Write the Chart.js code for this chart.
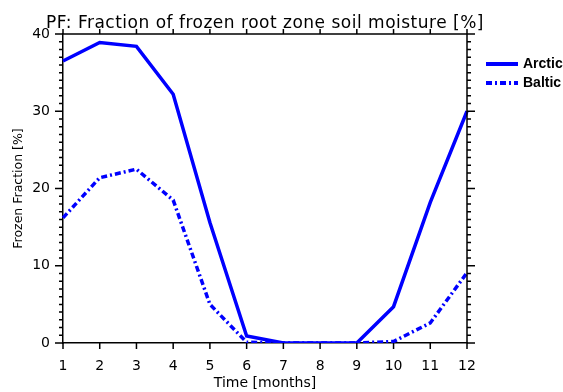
<!DOCTYPE html>
<html>
<head>
<meta charset="UTF-8" />
<script src="https://cdn.jsdelivr.net/npm/chart.js@4"></script>
<style>
  body { margin: 0; padding: 0; background: #fff; }
  #wrap { width: 563px; height: 392px; position: relative; }
</style>
</head>
<body>
<div id="wrap"><canvas id="chart" width="563" height="392"></canvas></div>
<script>
// values
const months = ['1', '2', '3', '4', '5', '6', '7', '8', '9', '10', '11', '12'];
const arctic = [36.5, 38.9, 38.4, 32.2, 15.6, 0.9, 0, 0, 0, 4.7, 18.2, 30.0];
const baltic = [16.2, 21.4, 22.5, 18.5, 5.0, 0.1, 0, 0, 0, 0.2, 2.6, 9.1];
const yTicks = [0, 10, 20, 30, 40];

const BLUE = '#0000ff';
const FONT = "'DejaVu Sans', sans-serif";

// IDL-ish frame: box, outward ticks, minor ticks on y, title, legend
const framePlugin = {
  id: 'frame',
  afterDraw(chart) {
    const { ctx, chartArea: a, scales } = chart;
    const x = scales.x, y = scales.y;
    ctx.save();
    ctx.strokeStyle = '#000';
    ctx.lineWidth = 1.5;
    ctx.beginPath();
    ctx.moveTo(a.left, a.top); ctx.lineTo(a.right, a.top);
    ctx.moveTo(a.right, a.top); ctx.lineTo(a.right, a.bottom);
    // x ticks, bottom and top
    months.forEach((m, i) => {
      const px = x.getPixelForValue(i);
      ctx.moveTo(px, a.bottom); ctx.lineTo(px, a.bottom + 6);
      ctx.moveTo(px, a.top); ctx.lineTo(px, a.top - 5);
    });
    // y ticks, left and right, minor every 1
    for (let v = 0; v <= 40; v++) {
      const py = y.getPixelForValue(v);
      const len = yTicks.includes(v) ? 8 : 4;
      ctx.moveTo(a.left, py); ctx.lineTo(a.left - len, py);
      ctx.moveTo(a.right, py); ctx.lineTo(a.right + len, py);
    }
    ctx.stroke();

    // title
    ctx.fillStyle = '#000';
    ctx.font = '17px ' + FONT;
    ctx.letterSpacing = '0.5px';
    ctx.textAlign = 'center';
    ctx.textBaseline = 'alphabetic';
    ctx.fillText('PF: Fraction of frozen root zone soil moisture [%]', (a.left + a.right) / 2, 28);
    ctx.letterSpacing = '0px';

    // legend
    chart.data.datasets.forEach((ds, i) => {
      const ly = 64 + i * 19;
      ctx.beginPath();
      ctx.strokeStyle = ds.borderColor;
      ctx.lineWidth = 4;
      ctx.setLineDash(ds.borderDash || []);
      ctx.moveTo(486, ly); ctx.lineTo(518, ly);
      ctx.stroke();
      ctx.setLineDash([]);
      ctx.fillStyle = '#000';
      ctx.font = "bold 14px 'Liberation Sans', sans-serif";
      ctx.textAlign = 'left';
      ctx.textBaseline = 'middle';
      ctx.fillText(ds.label, 523, ly);
    });
    ctx.restore();
  }
};

new Chart(document.getElementById('chart').getContext('2d'), {
  type: 'line',
  data: {
    labels: months,
    datasets: [
      { label: 'Arctic', data: arctic, borderColor: BLUE, borderWidth: 3.5, pointRadius: 0, tension: 0 },
      { label: 'Baltic', data: baltic, borderColor: BLUE, borderWidth: 3.5, borderDash: [6, 3, 2, 3], pointRadius: 0, tension: 0 }
    ]
  },
  options: {
    responsive: false,
    animation: false,
    layout: { padding: { left: 0, right: 96, top: 34, bottom: 0 } },
    plugins: { legend: { display: false }, tooltip: { enabled: false } },
    scales: {
      x: {
        type: 'category',
        offset: false,
        grid: { display: false, drawTicks: false },
        border: { display: true, color: '#000', width: 1.5 },
        ticks: { color: '#000', font: { family: FONT, size: 14 }, padding: 15, maxRotation: 0, autoSkip: false },
        title: { display: true, text: 'Time [months]', color: '#000', font: { family: FONT, size: 14 }, padding: { top: 0, bottom: 0 } },
        afterFit(s) { s.height = 49; }
      },
      y: {
        min: 0, max: 40,
        afterBuildTicks(s) { s.ticks = yTicks.map(v => ({ value: v })); },
        grid: { display: false, drawTicks: false },
        border: { display: true, color: '#000', width: 1.5 },
        ticks: { color: '#000', font: { family: FONT, size: 14 }, padding: 13 },
        title: { display: true, text: 'Frozen Fraction [%]', color: '#000', font: { family: FONT, size: 12.5 }, padding: { top: 11, bottom: 4 } },
        afterFit(s) { s.width = 63; }
      }
    }
  },
  plugins: [framePlugin]
});
</script>
</body>
</html>
